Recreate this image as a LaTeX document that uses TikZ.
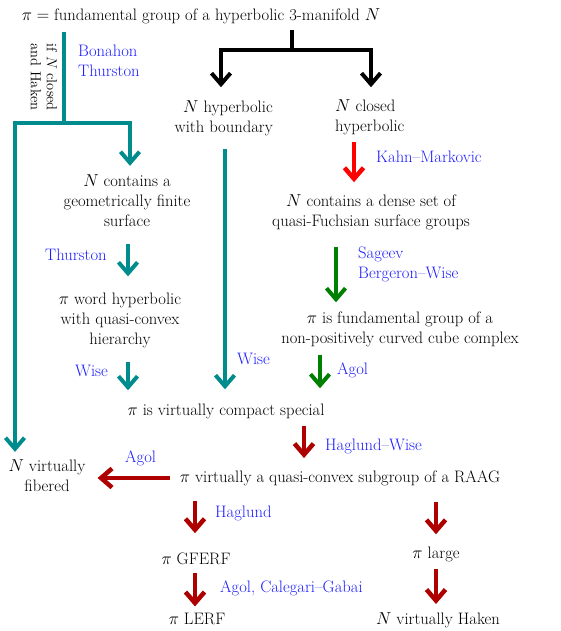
\documentclass[tikz,border=0pt]{standalone}
\usetikzlibrary{arrows.meta}
\definecolor{tealc}{RGB}{0,140,140}
\definecolor{labc}{RGB}{30,30,255}
\definecolor{redc}{RGB}{255,0,0}
\definecolor{dredc}{RGB}{175,0,0}
\definecolor{greenc}{RGB}{0,128,0}
\begin{document}
\begin{tikzpicture}[x=1pt,y=-1pt,
  every node/.style={inner sep=0pt, font=\fontsize{16.6}{20}\selectfont},
  lab/.style={text=labc, anchor=base west},
  labm/.style={text=labc, anchor=west, align=left},
  txt/.style={anchor=base},
  conn/.style={line width=4pt, -{Straight Barb[length=11pt,width=19pt]}},
  tealarr/.style={conn, draw=tealc},
  blackarr/.style={conn, draw=black},
  redarr/.style={conn, draw=redc, line width=4.5pt},
  dredarr/.style={conn, draw=dredc, line width=4.5pt},
  greenarr/.style={conn, draw=greenc},
  bar/.style={line width=4pt}
]
\useasboundingbox (0,0) rectangle (560,631);

% text nodes
\node[txt] (title) at (201,21) {$\pi =$ fundamental group of a hyperbolic 3-manifold $N$};
\node[anchor=east, align=right] (hyp) at (273,118) {$N$ hyperbolic\\with boundary};
\node[anchor=west, align=left] (closed) at (335,117) {$N$ closed\\hyperbolic};
\node[align=center] (geo) at (127,201) {$N$ contains a\\geometrically finite\\surface};
\node[align=center] (dense) at (371,212) {$N$ contains a dense set of\\quasi-Fuchsian surface groups};
\node[align=center] (word) at (120,320) {$\pi$ word hyperbolic\\with quasi-convex\\hierarchy};
\node[align=center] (cube) at (400,329) {$\pi$ is fundamental group of a\\non-positively curved cube complex};
\node[txt] (vcs) at (226,415) {$\pi$ is virtually compact special};
\node[align=center] (fib) at (47,476) {$N$ virtually\\fibered};
\node[txt] (raag) at (340,482) {$\pi$ virtually a quasi-convex subgroup of a RAAG};
\node[txt] (gferf) at (196,564) {$\pi$ GFERF};
\node[txt] (large) at (436,558) {$\pi$ large};
\node[txt] (lerf) at (197,624) {$\pi$ LERF};
\node[txt] (haken) at (438,624) {$N$ virtually Haken};

% labels
\node[rotate=-90, align=center, font=\fontsize{14.5}{16}\selectfont] (cond) at (44,77) {if $N$ closed\\and Haken};
\node[labm] (bt) at (78,61) {Bonahon\\Thurston};
\node[lab] (km) at (376,163) {Kahn--Markovic};
\node[lab] (th) at (45,260) {Thurston};
\node[labm] (sbw) at (358,264) {Sageev\\Bergeron--Wise};
\node[lab] (w1) at (75,376) {Wise};
\node[lab] (w2) at (237,364) {Wise};
\node[lab] (ag1) at (337,374) {Agol};
\node[lab] (hw) at (325,450) {Haglund--Wise};
\node[lab] (ag2) at (125,462) {Agol};
\node[lab] (hg) at (215,517) {Haglund};
\node[lab] (acg) at (220,592) {Agol, Calegari--Gabai};

% teal branch from title
\coordinate (tj) at (64,123);
\draw[bar, draw=tealc, shorten <=7pt] (title.south -| tj) -- (tj);
\draw[tealarr, shorten >=9pt] (tj) -| (geo.north -| 130,0);
\draw[tealarr, shorten >=8pt] (tj) -| (fib.north -| 15,0);

% black branch from title
\coordinate (bj) at (292,50);
\draw[bar, draw=black, shorten <=5pt] (title.south -| bj) -- (bj);
\draw[blackarr, shorten >=13pt] (bj) -| (hyp.north -| 221,0);
\draw[blackarr, shorten >=12pt] (bj) -| (closed.north -| 371,0);

% other connectors
\draw[tealarr, shorten <=13pt, shorten >=14pt] (hyp.south -| 225,0) -- (vcs.north -| 225,0);
\draw[redarr, shorten <=7pt, shorten >=12pt] (closed.south -| 354,0) -- (dense.north -| 354,0);
\draw[tealarr, shorten <=17pt, shorten >=16pt] (geo.south -| 128,0) -- (word.north -| 128,0);
\draw[greenarr, shorten <=17pt, shorten >=9pt] (dense.south -| 336,0) -- (cube.north -| 336,0);
\draw[tealarr, shorten <=14pt, shorten >=13pt] (word.south -| 128,0) -- (vcs.north -| 128,0);
\draw[greenarr, shorten <=8pt, shorten >=15pt] (cube.south -| 320,0) -- (vcs.north -| 320,0);
\draw[dredarr, shorten <=7pt, shorten >=12pt] (vcs.south -| 304,0) -- (raag.north -| 304,0);
\draw[dredarr, shorten <=10pt, shorten >=12pt] (raag.west |- 0,478) -- (fib.east |- 0,478);
\draw[dredarr, shorten <=15pt, shorten >=19pt] (raag.south -| 195,0) -- (gferf.north -| 195,0);
\draw[dredarr, shorten <=16pt, shorten >=12pt] (raag.south -| 436,0) -- (large.north -| 436,0);
\draw[dredarr, shorten <=9pt, shorten >=6pt] (gferf.south -| 195,0) -- (lerf.north -| 195,0);
\draw[dredarr, shorten <=7pt, shorten >=8pt] (large.south -| 436,0) -- (haken.north -| 436,0);
\end{tikzpicture}
\end{document}
